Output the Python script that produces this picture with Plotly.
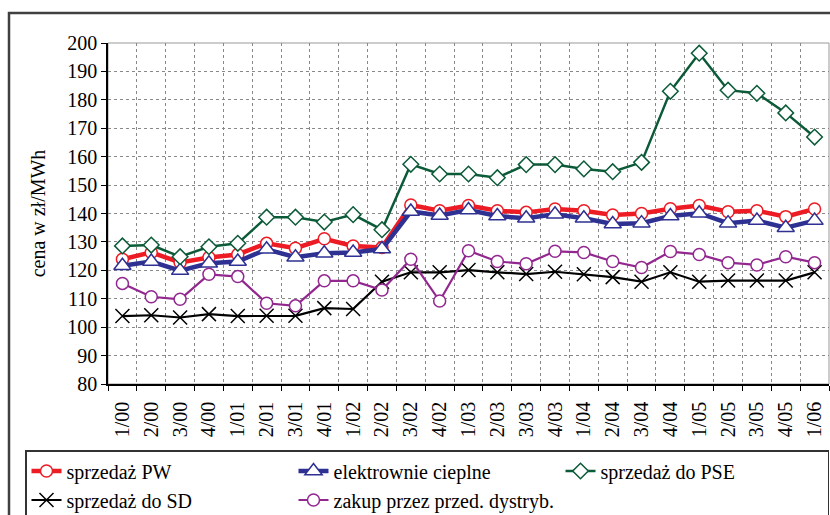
import plotly.graph_objects as go

categories = ["1/00", "2/00", "3/00", "4/00", "1/01", "2/01", "3/01", "4/01",
              "1/02", "2/02", "3/02", "4/02", "1/03", "2/03", "3/03", "4/03",
              "1/04", "2/04", "3/04", "4/04", "1/05", "2/05", "3/05", "4/05", "1/06"]

sprzedaz_pw = [123.9, 126.3, 122.8, 124.5, 125.6, 129.5, 127.8, 131.1, 128.6, 128.0,
               143.0, 141.0, 142.8, 141.0, 140.4, 141.6, 141.0, 139.5, 140.0, 141.7,
               142.8, 140.6, 141.0, 138.9, 141.6]
elektrownie_cieplne = [121.6, 123.1, 119.9, 122.5, 123.1, 127.4, 124.6, 126.0, 126.3, 127.5,
                       140.7, 139.3, 141.2, 139.1, 138.3, 139.7, 138.3, 136.3, 136.6, 139.1,
                       140.1, 136.6, 137.5, 135.0, 137.5]
sprzedaz_pse = [128.6, 128.9, 124.8, 128.3, 129.5, 138.7, 138.7, 137.0, 139.6, 134.3,
                157.3, 153.9, 153.9, 152.6, 157.2, 157.2, 155.7, 154.7, 158.0, 183.0,
                196.4, 183.4, 182.3, 175.4, 166.9]
sprzedaz_sd = [103.9, 104.2, 103.4, 104.6, 103.9, 104.0, 104.0, 106.7, 106.4, 116.0,
               119.3, 119.3, 120.1, 119.3, 118.7, 119.5, 118.6, 117.6, 116.0, 119.3,
               116.0, 116.4, 116.4, 116.4, 119.3]
zakup_dystryb = [115.4, 110.7, 109.8, 118.6, 117.8, 108.4, 107.5, 116.3, 116.3, 113.1,
                 123.9, 109.2, 126.9, 123.1, 122.3, 126.7, 126.3, 123.1, 121.0, 126.6,
                 125.6, 122.7, 121.9, 124.8, 122.7]

y_ticks = [80, 90, 100, 110, 120, 130, 140, 150, 160, 170, 180, 190, 200]

FONT = "Liberation Serif, Times New Roman, DejaVu Serif, serif"
RED = "#ED1C24"
BLUE = "#2E3192"
GREEN = "#0B5A38"
PURPLE = "#92278F"

fig = go.Figure()

fig.add_trace(go.Scatter(
    x=categories, y=sprzedaz_pw, name="sprzedaż PW", mode="lines+markers",
    line=dict(color=RED, width=4.5),
    marker=dict(symbol="circle", size=12, color="white", line=dict(color=RED, width=1.5))))
fig.add_trace(go.Scatter(
    x=categories, y=elektrownie_cieplne, name="elektrownie cieplne", mode="lines+markers",
    line=dict(color=BLUE, width=4.5),
    marker=dict(symbol="triangle-up", size=15, color="white", line=dict(color=BLUE, width=1.5))))
fig.add_trace(go.Scatter(
    x=categories, y=sprzedaz_pse, name="sprzedaż do PSE", mode="lines+markers",
    line=dict(color=GREEN, width=2.5),
    marker=dict(symbol="diamond", size=12, color="white", line=dict(color=GREEN, width=1.5))))
fig.add_trace(go.Scatter(
    x=categories, y=sprzedaz_sd, name="sprzedaż do SD", mode="lines+markers",
    line=dict(color="black", width=2.2),
    marker=dict(symbol="x-thin", size=14, color="black", line=dict(color="black", width=1.5))))
fig.add_trace(go.Scatter(
    x=categories, y=zakup_dystryb, name="zakup przez przed. dystryb.", mode="lines+markers",
    line=dict(color=PURPLE, width=2.2),
    marker=dict(symbol="circle", size=12, color="white", line=dict(color=PURPLE, width=1.5))))

fig.update_layout(
    width=830, height=515,
    margin=dict(l=108, r=1, t=43, b=131, autoexpand=False),
    paper_bgcolor="white", plot_bgcolor="white",
    font=dict(family=FONT, size=20, color="black"),
    showlegend=True,
    legend=dict(
        orientation="h", x=(25 - 108) / 721, xanchor="left",
        y=(384 - 450) / 341, yanchor="top",
        entrywidth=222, entrywidthmode="pixels",
        bordercolor="#333333", borderwidth=1.5,
        font=dict(family=FONT, size=20), tracegroupgap=0,
        itemwidth=30,
    ),
    xaxis=dict(
        type="category", tickson="boundaries", tickangle=-90,
        showgrid=True, gridcolor="#888888", griddash="dot", gridwidth=1,
        showline=True, linecolor="black", linewidth=1.5,
        ticks="outside", ticklen=5, tickcolor="black",
        tickfont=dict(family=FONT, size=20), ticklabelstandoff=8,
        range=[-0.5, len(categories) - 0.5],
        automargin=False,
    ),
    yaxis=dict(
        range=[80, 200], tickvals=y_ticks,
        showgrid=True, gridcolor="#888888", griddash="dot", gridwidth=1,
        showline=True, linecolor="black", linewidth=1.5,
        ticks="outside", ticklen=5, tickcolor="black",
        tickfont=dict(family=FONT, size=20),
        title=dict(text="cena w zł/MWh", font=dict(family=FONT, size=20), standoff=16),
        zeroline=False, automargin=False,
    ),
    shapes=[
        dict(type="rect", xref="paper", yref="paper", x0=0, x1=1, y0=0, y1=1,
             line=dict(color="#999999", width=1), layer="below"),
        dict(type="rect", xref="paper", yref="paper",
             x0=(9 - 108) / 721, x1=1.05, y0=-0.6, y1=(384 - 13) / 341,
             line=dict(color="#404040", width=2.5)),
    ],
)

fig.write_html("out.html", config={"displayModeBar": False},
               post_script="document.body.style.margin='0';document.body.style.overflow='hidden';")
